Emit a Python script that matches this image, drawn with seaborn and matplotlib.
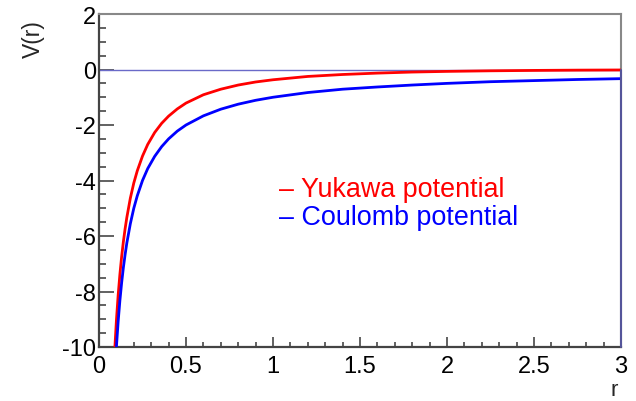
import numpy as np
import pandas as pd
import matplotlib
matplotlib.use("Agg")
import matplotlib.pyplot as plt
from matplotlib.ticker import MultipleLocator
import seaborn as sns

# Sampled potentials V(r)
r_values = [0.08, 0.09, 0.10, 0.11, 0.12, 0.13, 0.14, 0.15, 0.16, 0.18,
            0.20, 0.22, 0.25, 0.28, 0.32, 0.36, 0.40, 0.45, 0.50, 0.60,
            0.70, 0.80, 0.90, 1.00, 1.20, 1.40, 1.60, 1.80, 2.00, 2.25,
            2.50, 2.75, 3.00]
yukawa = [-11.54, -10.15, -9.05, -8.14, -7.39, -6.75, -6.21, -5.74, -5.33, -4.64,
          -4.09, -3.65, -3.12, -2.70, -2.27, -1.94, -1.68, -1.42, -1.21, -0.91,
          -0.71, -0.56, -0.45, -0.37, -0.25, -0.18, -0.13, -0.092, -0.068, -0.047,
          -0.033, -0.023, -0.017]
coulomb = [-12.5, -11.11, -10.0, -9.09, -8.33, -7.69, -7.14, -6.67, -6.25, -5.56,
           -5.0, -4.55, -4.0, -3.57, -3.13, -2.78, -2.5, -2.22, -2.0, -1.67,
           -1.43, -1.25, -1.11, -1.0, -0.83, -0.71, -0.63, -0.56, -0.5, -0.44,
           -0.4, -0.36, -0.33]
series_names = ["Yukawa potential", "Coulomb potential"]
series_colors = ["#ff0000", "#0000ff"]

df = pd.concat([
    pd.DataFrame({"r": r_values, "V": yukawa, "potential": series_names[0]}),
    pd.DataFrame({"r": r_values, "V": coulomb, "potential": series_names[1]}),
])

sns.set_style("white")
plt.rcParams["font.family"] = ["Liberation Sans", "DejaVu Sans"]

fig = plt.figure(figsize=(6.36, 4.02), dpi=100)
ax = fig.add_axes([99 / 636, 54 / 402, 522 / 636, 333 / 402])

# zero reference line
ax.axhline(0, color="#6a6ac8", lw=1.0, zorder=1)

sns.lineplot(data=df, x="r", y="V", hue="potential", palette=series_colors,
             hue_order=series_names, sort=False, estimator=None, lw=2.0,
             legend=False, ax=ax, zorder=3)

ax.set_xlim(0, 3)
ax.set_ylim(-10, 2)
ax.set_xlabel("")
ax.set_ylabel("")

ax.xaxis.set_major_locator(MultipleLocator(0.5))
ax.xaxis.set_minor_locator(MultipleLocator(0.1))
ax.yaxis.set_major_locator(MultipleLocator(2))
ax.yaxis.set_minor_locator(MultipleLocator(0.5))
ax.set_xticks([0, 0.5, 1, 1.5, 2, 2.5, 3])
ax.set_xticklabels(["0", "0.5", "1", "1.5", "2", "2.5", "3"])
ax.set_yticks([-10, -8, -6, -4, -2, 0, 2])
ax.set_yticklabels(["-10", "-8", "-6", "-4", "-2", "0", "2"])

ax.tick_params(axis="both", which="both", direction="in", colors="#555555",
               labelcolor="black", labelsize=17, width=1.3,
               bottom=True, left=True, top=False, right=False)
ax.tick_params(axis="x", which="major", length=7.5, pad=6)
ax.tick_params(axis="x", which="minor", length=3.5)
ax.tick_params(axis="y", which="major", length=10.5, pad=2)
ax.tick_params(axis="y", which="minor", length=5)

for side in ("left", "bottom"):
    ax.spines[side].set_color("#444444")
    ax.spines[side].set_linewidth(1.6)
for side in ("top", "right"):
    ax.spines[side].set_color("#888888")
    ax.spines[side].set_linewidth(1.5)
ax.plot([3, 3], [-10, 0], color="#55559a", lw=1.5, clip_on=False, zorder=4)

fig.text(33 / 636, 1 - 39 / 402, "V(r)", rotation=90, fontsize=16.5,
         ha="center", va="center")
fig.text(614 / 636, 1 - 391 / 402, "r", fontsize=16, ha="center", va="center")

ax.text(0.344, 0.453, "\u2013 Yukawa potential", transform=ax.transAxes,
        color=series_colors[0], fontsize=19.4, ha="left", va="baseline")
ax.text(0.344, 0.369, "\u2013 Coulomb potential", transform=ax.transAxes,
        color=series_colors[1], fontsize=19.4, ha="left", va="baseline")

fig.savefig("out.png", dpi=100)
